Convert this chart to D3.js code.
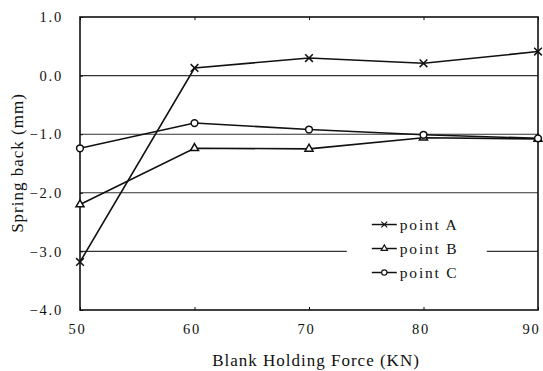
<!DOCTYPE html>
<html>
<head>
<meta charset="utf-8">
<script src="https://cdn.jsdelivr.net/npm/d3@7"></script>
<style>
  body { margin: 0; background: #fff; }
  text { font-family: "Liberation Serif", "Times New Roman", serif; fill: #111; }
</style>
</head>
<body>
<div class="chart"></div>
<script>
// values
const force = [50, 60, 70, 80, 90];
const pointA = [-3.18, 0.13, 0.30, 0.21, 0.41];
const pointB = [-2.20, -1.24, -1.25, -1.06, -1.08];
const pointC = [-1.24, -0.81, -0.92, -1.01, -1.07];
const seriesNames = ["point A", "point B", "point C"];
const yTicks = [1, 0, -1, -2, -3, -4];

const w = 543,
      h = 371,
      margin = {top: 17, right: 5, bottom: 61, left: 80},
      iw = w - margin.left - margin.right,
      ih = h - margin.top - margin.bottom;

const svg = d3.select(".chart")
  .append("svg")
  .attr("width", w)
  .attr("height", h);

const g = svg.append("g")
  .attr("transform", "translate(" + margin.left + "," + margin.top + ")");

const xScale = d3.scaleLinear().domain([50, 90]).range([0, iw]);
const yScale = d3.scaleLinear().domain([-4, 1]).range([ih, 0]);

// grid lines
g.selectAll(".grid")
  .data(yTicks.filter((d) => d > -4 && d < 1))
  .enter()
  .append("line")
  .attr("x1", 0)
  .attr("x2", iw)
  .attr("y1", (d) => yScale(d))
  .attr("y2", (d) => yScale(d))
  .attr("stroke", "#333")
  .attr("stroke-width", 1.1);

// axes
const xAxis = d3.axisBottom(xScale)
  .tickValues(force)
  .tickSize(-3)
  .tickPadding(14)
  .tickFormat(d3.format("d"));
const yAxis = d3.axisLeft(yScale)
  .tickValues(yTicks)
  .tickSize(-3)
  .tickPadding(17)
  .tickFormat(d3.format(".1f"));
const topAxis = d3.axisTop(xScale)
  .tickValues(force)
  .tickSize(-3)
  .tickFormat("");

const gx = g.append("g")
  .attr("transform", "translate(0," + ih + ")")
  .call(xAxis);
const gy = g.append("g").call(yAxis);
const gt = g.append("g").call(topAxis);

[gx, gy, gt].forEach((a) => {
  a.select(".domain").remove();
  a.selectAll("line").attr("stroke", "#111");
  a.selectAll("text")
    .style("font-size", "14.5px")
    .style("letter-spacing", "1.8px")
    .attr("fill", "#111");
});
gx.selectAll("text")
  .attr("dx", (d) => d === 90 ? "-7px" : "-3px");

// frame
g.append("rect")
  .attr("width", iw)
  .attr("height", ih)
  .attr("fill", "none")
  .attr("stroke", "#111")
  .attr("stroke-width", 1.6);

// legend background
const legend = g.append("g")
  .attr("transform", "translate(" + xScale(73.3) + "," + yScale(-2.2) + ")");
legend.append("rect")
  .attr("width", 140)
  .attr("height", 84)
  .attr("fill", "#fff");

// series
const series = [pointA, pointB, pointC];
const symbols = [d3.symbolX, d3.symbolTriangle, d3.symbolCircle];
const sizes = [40, 28, 36];

const line = d3.line()
  .x((d, i) => xScale(force[i]))
  .y((d) => yScale(d));

series.forEach((s, k) => {
  g.append("path")
    .datum(s)
    .attr("d", line)
    .attr("fill", "none")
    .attr("stroke", "#111")
    .attr("stroke-width", 1.6);
  g.selectAll(".m" + k)
    .data(s)
    .enter()
    .append("path")
    .attr("class", "m" + k)
    .attr("transform", (d, i) => "translate(" + xScale(force[i]) + "," + yScale(d) + ")")
    .attr("d", d3.symbol(symbols[k], sizes[k]))
    .attr("fill", k === 0 ? "none" : "#fff")
    .attr("stroke", "#111")
    .attr("stroke-width", 1.5);
});

// legend entries
seriesNames.forEach((name, k) => {
  const row = legend.append("g")
    .attr("transform", "translate(25," + (20 + k * 24) + ")");
  row.append("line")
    .attr("x1", 0)
    .attr("x2", 25)
    .attr("stroke", "#111")
    .attr("stroke-width", 1.5);
  row.append("path")
    .attr("transform", "translate(12.5,0)")
    .attr("d", d3.symbol(symbols[k], sizes[k] * 0.6))
    .attr("fill", k === 0 ? "none" : "#fff")
    .attr("stroke", "#111")
    .attr("stroke-width", 1.2);
  row.append("text")
    .attr("x", 28)
    .attr("dy", "0.35em")
    .style("font-size", "15.5px")
    .style("letter-spacing", "1.8px")
    .text(name);
});

// axis titles
svg.append("text")
  .attr("x", margin.left + iw / 2 + 7)
  .attr("y", 366)
  .attr("text-anchor", "middle")
  .style("font-size", "17px")
  .style("letter-spacing", "1px")
  .text("Blank Holding Force (KN)");

svg.append("text")
  .attr("transform", "translate(23,163) rotate(-90)")
  .attr("text-anchor", "middle")
  .style("font-size", "17px")
  .style("letter-spacing", "1px")
  .text("Spring back (mm)");
</script>
</body>
</html>
